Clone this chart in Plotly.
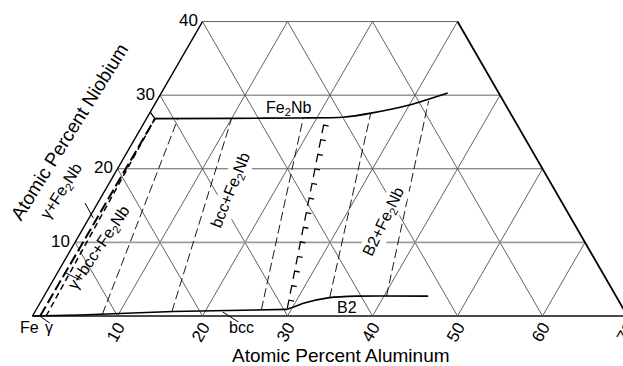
import numpy as np
import plotly.graph_objects as go

S3 = np.sqrt(3) / 2

# ---------------- data (composition in at.%: Al, Nb) ----------------
al_ticks = [10, 20, 30, 40, 50, 60, 70]
al_tick_labels = ["10", "20", "30", "40", "50", "60", "70"]
nb_ticks = [10, 20, 30, 40]
nb_tick_labels = ["10", "20", "30", "40"]

# lower boundary of the Fe2Nb field
fe2nb_al = [1.0, 10.0, 18.0, 23.0, 26.2, 30.1, 33.7]
fe2nb_nb = [26.8, 26.85, 26.9, 27.0, 27.6, 28.7, 30.3]
# short piece of the Fe2Nb field toward the Fe-Nb edge
fe2nb_edge_al = [0.0, 1.0]
fe2nb_edge_nb = [27.7, 26.8]

# bcc solubility boundary
bcc_al = [0.0, 5.5, 16.2, 29.5]
bcc_nb = [0.0, 0.14, 0.61, 0.9]

# B2 solubility boundary
b2_al = [29.5, 31.2, 33.7, 36.8, 45.2]
b2_nb = [0.9, 1.8, 2.5, 2.7, 2.7]

# bcc / B2 ordering line
order_al = [29.5, 21.0]
order_nb = [0.9, 26.8]

# tie lines (bcc/B2 -> Fe2Nb)
tie_bottom_al = [8.1, 16.1, 26.5, 33.7, 40.3]
tie_bottom_nb = [0.25, 0.6, 0.85, 2.55, 2.7]
tie_top_al = [3.7, 10.0, 18.4, 26.0, 32.0]
tie_top_nb = [26.85, 26.85, 26.9, 27.6, 29.2]

# three-phase triangle gamma + bcc + Fe2Nb
gamma_fe2nb_al = [0.9, 1.0]
gamma_fe2nb_nb = [0.0, 26.8]
bccc_fe2nb_al = [1.6, 1.0]
bccc_fe2nb_nb = [0.0, 26.8]

# ---------------- geometry of the drawing ----------------
W, H = 623, 366
PX = 8.5            # pixels per at.%
X_ORIGIN_PX = 32.5  # pixel x of the Fe corner
Y_ORIGIN_PX = 316   # pixel y of the Fe-Al edge
X0 = -X_ORIGIN_PX / PX
X1 = (W - X_ORIGIN_PX) / PX
Y1 = Y_ORIGIN_PX / PX
Y0 = -(H - Y_ORIGIN_PX) / PX


def xy(al, nb):
    al = np.asarray(al, dtype=float)
    nb = np.asarray(nb, dtype=float)
    return al + nb / 2, nb * S3


def to_paper(al, nb):
    x, y = xy(al, nb)
    return float((x - X0) / (X1 - X0)), float((y - Y0) / (Y1 - Y0))


def seg_trace(segs, color, width, dash=None):
    xs, ys = [], []
    for a0, n0, a1, n1 in segs:
        x, y = xy([a0, a1], [n0, n1])
        xs += list(x) + [None]
        ys += list(y) + [None]
    return go.Scatter(x=xs, y=ys, mode="lines",
                      line=dict(color=color, width=width, dash=dash),
                      hoverinfo="skip", showlegend=False)


def curve_trace(al, nb, color="black", width=1.6, dash=None, shape="linear"):
    x, y = xy(al, nb)
    return go.Scatter(x=x, y=y, mode="lines",
                      line=dict(color=color, width=width, dash=dash, shape=shape,
                                smoothing=0.6 if shape == "spline" else None),
                      hoverinfo="skip", showlegend=False)


fig = go.Figure()

# ---- grid ----
grid = []
for k in [20, 30]:
    grid.append((0, k, 70 - k, k))
for k in [10, 20, 30, 40, 50, 60]:
    grid.append((k, 0, k, min(40, 70 - k)))
for s in [10, 20, 30, 40, 50, 60]:
    top = min(40, s)
    grid.append((s, 0, s - top, top))
grid.append((0, 40, 30, 40))
fig.add_trace(seg_trace(grid, "#505050", 0.9))
fig.add_trace(seg_trace([(0, 10, 60, 10)], "#9c9c9c", 1.7))
fig.add_trace(seg_trace([(0, 0, 70, 0)], "#4a4a4a", 2.2))
fig.add_trace(seg_trace([(0, 0, 0, 40)], "black", 1.4))
fig.add_trace(seg_trace([(70, 0, 30, 40)], "black", 1.8))

# ---- phase boundaries ----
fig.add_trace(curve_trace(fe2nb_al, fe2nb_nb, width=1.7, shape="spline"))
fig.add_trace(curve_trace(fe2nb_edge_al, fe2nb_edge_nb, width=1.3))
fig.add_trace(curve_trace(bcc_al, bcc_nb, width=1.6))
fig.add_trace(curve_trace(b2_al, b2_nb, width=1.6, shape="spline"))

ties = [(a0, n0, a1, n1) for a0, n0, a1, n1 in
        zip(tie_bottom_al, tie_bottom_nb, tie_top_al, tie_top_nb)]
fig.add_trace(seg_trace(ties, "black", 0.9, dash="9px,4px"))

fig.add_trace(curve_trace(gamma_fe2nb_al, gamma_fe2nb_nb, width=2.0, dash="11px,4px"))
fig.add_trace(curve_trace(bccc_fe2nb_al, bccc_fe2nb_nb, width=1.5, dash="6px,4px"))

# ---- ordering line drawn as hooked dashes ----
p0 = np.array(xy(order_al[0], order_nb[0]))
p1 = np.array(xy(order_al[1], order_nb[1]))
length = np.linalg.norm(p1 - p0)
u = (p1 - p0) / length
n = np.array([u[1], -u[0]])
dash_len, cap_len, step = 0.95, 0.6, 1.75
hx, hy = [], []
t = 0.15
while t + dash_len <= length:
    a = p0 + u * t
    b = p0 + u * (t + dash_len)
    c = b + n * cap_len
    hx += [a[0], b[0], c[0], None]
    hy += [a[1], b[1], c[1], None]
    t += step
fig.add_trace(go.Scatter(x=hx, y=hy, mode="lines", line=dict(color="black", width=1.3),
                         hoverinfo="skip", showlegend=False))

# ---- leader lines ----
leaders = [
    (-1.5, 15.35, 0.5, 13.3),    # gamma+Fe2Nb
    (1.0, 5.85, 3.1, 4.9),       # gamma+bcc+Fe2Nb
    (0.85, 0.0, 2.5, -0.95),     # gamma
    (22.1, 0.55, 24.6, -0.8),    # bcc
]
fig.add_trace(seg_trace(leaders, "black", 1.0))

FONT = "Liberation Sans, Arial, sans-serif"
ann = []

# tick labels
for a, lab in zip(al_ticks, al_tick_labels):
    px_, py_ = to_paper(a, 0)
    ann.append(dict(x=px_, y=py_, xref="paper", yref="paper", text=lab, showarrow=False,
                    textangle=-60, xshift=-2, yshift=-16,
                    xanchor="center", yanchor="middle",
                    font=dict(size=17, family=FONT, color="black")))
for nb, lab in zip(nb_ticks, nb_tick_labels):
    px_, py_ = to_paper(0, nb)
    ann.append(dict(x=px_, y=py_, xref="paper", yref="paper", text=lab, showarrow=False,
                    xanchor="right", yanchor="middle", xshift=-3, yshift=1,
                    font=dict(size=17, family=FONT, color="black")))

# axis titles
ann.append(dict(x=341 / W, y=1 - 355 / H, xref="paper", yref="paper",
                text="Atomic Percent Aluminum", showarrow=False,
                xanchor="center", yanchor="middle",
                font=dict(size=19, family=FONT, color="black")))
ax_, ay_ = to_paper(-8.2, 25.1)
ann.append(dict(x=ax_, y=ay_, xref="paper", yref="paper",
                text="Atomic Percent Niobium", showarrow=False, textangle=-58,
                xanchor="center", yanchor="middle",
                font=dict(size=19, family=FONT, color="black")))

# phase labels (Al, Nb, text, angle, white background)
phase_labels = [
    (16.05, 28.25, "Fe<sub>2</sub>Nb", 0, False),
    (14.8, 17.1, "bcc+Fe<sub>2</sub>Nb", -68, True),
    (35.0, 12.8, "B2+Fe<sub>2</sub>Nb", -64, True),
    (36.4, 1.2, "B2", 0, False),
    (25.35, -1.6, "bcc", 0, False),
    (-4.95, 16.85, "γ+Fe<sub>2</sub>Nb", -57, False),
    (3.3, 9.25, "γ+bcc+Fe<sub>2</sub>Nb", -56, False),
    (0.35, -1.5, "Fe", 0, False),
    (2.7, -1.5, "γ", 0, False),
]
for a, nb, txt, ang, bg in phase_labels:
    px_, py_ = to_paper(a, nb)
    d = dict(x=px_, y=py_, xref="paper", yref="paper", text=txt, showarrow=False,
             textangle=ang, xanchor="center", yanchor="middle",
             font=dict(size=16, family=FONT, color="black"))
    if bg:
        d["bgcolor"] = "white"
    ann.append(d)

fig.update_layout(
    width=W, height=H, autosize=False,
    margin=dict(l=0, r=0, t=0, b=0),
    paper_bgcolor="white", plot_bgcolor="white",
    xaxis=dict(range=[X0, X1], visible=False, fixedrange=True),
    yaxis=dict(range=[Y0, Y1], visible=False, fixedrange=True),
    annotations=ann,
    showlegend=False,
)

fig.write_html("out.html", config={"displayModeBar": False},
               post_script="document.body.style.margin='0';")
